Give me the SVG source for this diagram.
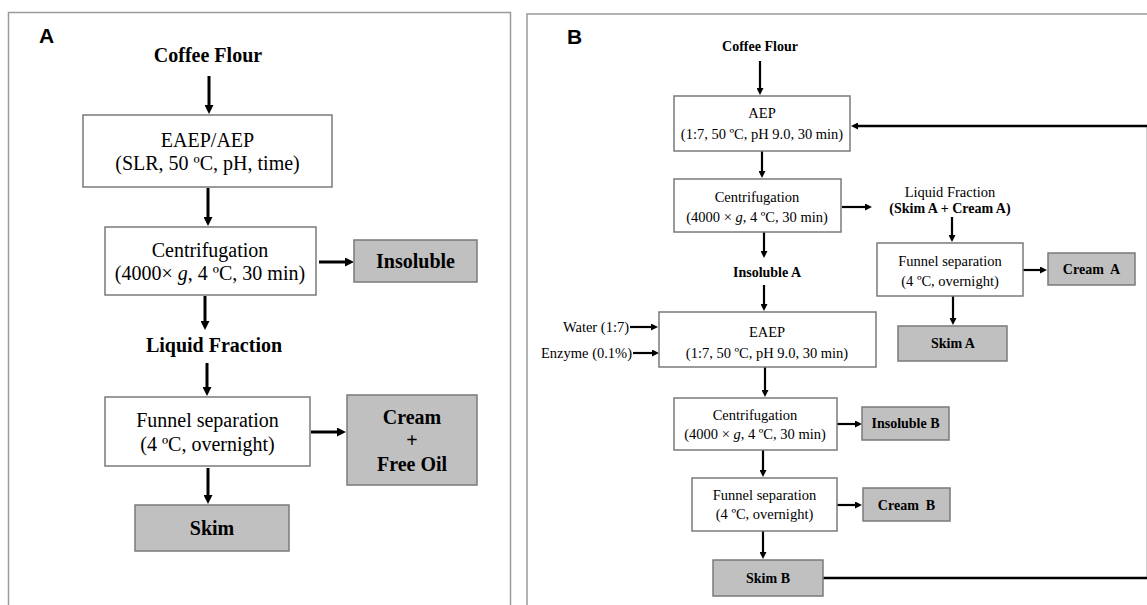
<svg xmlns="http://www.w3.org/2000/svg" width="1147" height="605" viewBox="0 0 1147 605">
<style>
.panel{fill:none;stroke:#9a9a9a;stroke-width:1.5}
.wb{fill:#fff;stroke:#7a7a7a;stroke-width:1.5}
.gb{fill:#c0c0c0;stroke:#7a7a7a;stroke-width:1.5}
.ta{font-family:"Liberation Serif",serif;font-size:20px;text-anchor:middle;fill:#000}
.tab{font-family:"Liberation Serif",serif;font-size:20px;font-weight:bold;text-anchor:middle;fill:#000}
.tb{font-family:"Liberation Serif",serif;font-size:14.5px;text-anchor:middle;fill:#000}
.tbb{font-family:"Liberation Serif",serif;font-size:14px;font-weight:bold;text-anchor:middle;fill:#000}
.lbl{font-family:"Liberation Sans",Arial,sans-serif;font-size:21px;font-weight:bold;fill:#000}
.ca{fill:none;stroke:#000;stroke-width:3;marker-end:url(#ha)}
.cb{fill:none;stroke:#000;stroke-width:2.2;marker-end:url(#hb)}
</style>
<defs>
<marker id="ha" viewBox="0 0 10 10" refX="2" refY="5" markerWidth="9" markerHeight="9" markerUnits="userSpaceOnUse" orient="auto"><path d="M0,0 L10,5 L0,10 z" fill="#000"/></marker>
<marker id="hb" viewBox="0 0 10 10" refX="2" refY="5" markerWidth="7" markerHeight="7" markerUnits="userSpaceOnUse" orient="auto"><path d="M0,0 L10,5 L0,10 z" fill="#000"/></marker>
</defs>
<rect width="1147" height="605" fill="#fff"/>
<rect class="panel" x="8.5" y="12.5" width="502" height="610"/>
<rect class="panel" x="527" y="14" width="640" height="610"/>
<line x1="1146.5" y1="126" x2="1146.5" y2="578" stroke="#d0d0d0" stroke-width="1"/>
<text class="lbl" x="39" y="43">A</text>
<text class="lbl" x="567" y="44">B</text>

<g id="connectors">
<path class="ca" d="M209,76 V106.8"/>
<path class="ca" d="M208,188 V218.8"/>
<path class="ca" d="M319,262 H346.8"/>
<path class="ca" d="M205,296 V322.8"/>
<path class="ca" d="M207,363 V388.8"/>
<path class="ca" d="M311,432 H338.8"/>
<path class="ca" d="M208,468 V496.8"/>

<path class="cb" d="M760,61 V89.4"/>
<path class="cb" d="M823,578 H1148.6 V126 H856.6" style="stroke-width:2.6"/>
<path class="cb" d="M762,151 V172.4"/>
<path class="cb" d="M842,207 H866.4"/>
<path class="cb" d="M952,217 V236.4"/>
<path class="cb" d="M764,232 V252.4"/>
<path class="cb" d="M764,285 V305.4"/>
<path class="cb" d="M1023,270 H1041.4"/>
<path class="cb" d="M953,296 V319.4"/>
<path class="cb" d="M630,327 H652.4"/>
<path class="cb" d="M633,353 H653.4"/>
<path class="cb" d="M765,367 V391.4"/>
<path class="cb" d="M837,424 H856.4"/>
<path class="cb" d="M763,450 V471.4"/>
<path class="cb" d="M837,505 H856.4"/>
<path class="cb" d="M763,531 V553.4"/>
</g>

<g id="a-coffee"><text class="tab" x="208" y="62">Coffee Flour</text></g>
<g id="a-eaep"><rect class="wb" x="83" y="115" width="249" height="72"/>
<text class="ta" x="207.5" y="147">EAEP/AEP</text>
<text class="ta" x="207.5" y="170">(SLR, 50 ºC, pH, time)</text></g>
<g id="a-centrifugation"><rect class="wb" x="105" y="227" width="211" height="68"/>
<text class="ta" x="210" y="257">Centrifugation</text>
<text class="ta" x="210" y="280">(4000× <tspan font-style="italic">g</tspan>, 4 ºC, 30 min)</text></g>
<g id="a-insoluble"><rect class="gb" x="354" y="240" width="123" height="42"/>
<text class="tab" x="415.5" y="268">Insoluble</text></g>
<g id="a-liquid"><text class="tab" x="214" y="352">Liquid Fraction</text></g>
<g id="a-funnel"><rect class="wb" x="105" y="397" width="205" height="69"/>
<text class="ta" x="207.5" y="427">Funnel separation</text>
<text class="ta" x="207.5" y="451">(4 ºC, overnight)</text></g>
<g id="a-cream"><rect class="gb" x="347" y="395" width="130" height="90"/>
<text class="tab" x="412" y="424">Cream</text>
<text class="tab" x="412" y="447">+</text>
<text class="tab" x="412" y="471">Free Oil</text></g>
<g id="a-skim"><rect class="gb" x="135" y="505" width="154" height="46"/>
<text class="tab" x="212" y="535">Skim</text></g>

<g id="b-coffee"><text class="tbb" x="760" y="51">Coffee Flour</text></g>
<g id="b-aep"><rect class="wb" x="674" y="96" width="176" height="55"/>
<text class="tb" x="762" y="118">AEP</text>
<text class="tb" x="762" y="139">(1:7, 50 ºC, pH 9.0, 30 min)</text></g>
<g id="b-centrifugation-a"><rect class="wb" x="674" y="179" width="167" height="53"/>
<text class="tb" x="757" y="202">Centrifugation</text>
<text class="tb" x="757" y="222">(4000 × <tspan font-style="italic">g</tspan>, 4 ºC, 30 min)</text></g>
<g id="b-liquid"><text class="tb" x="950" y="197">Liquid Fraction</text>
<text class="tbb" x="950" y="213">(Skim A + Cream A)</text></g>
<g id="b-funnel-a"><rect class="wb" x="877" y="243" width="146" height="53"/>
<text class="tb" x="950" y="266">Funnel separation</text>
<text class="tb" x="950" y="286">(4 ºC, overnight)</text></g>
<g id="b-cream-a"><rect class="gb" x="1048" y="253" width="87" height="32"/>
<text class="tbb" x="1091.5" y="274" xml:space="preserve">Cream  A</text></g>
<g id="b-skim-a"><rect class="gb" x="898" y="326" width="109" height="35"/>
<text class="tbb" x="953" y="348">Skim A</text></g>
<g id="b-insoluble-a"><text class="tbb" x="767" y="277">Insoluble A</text></g>
<g id="b-water"><text class="tb" x="629" y="332" style="text-anchor:end">Water (1:7)</text></g>
<g id="b-enzyme"><text class="tb" x="632" y="358" style="text-anchor:end">Enzyme (0.1%)</text></g>
<g id="b-eaep"><rect class="wb" x="659" y="312" width="217" height="55"/>
<text class="tb" x="767" y="337">EAEP</text>
<text class="tb" x="767" y="358">(1:7, 50 ºC, pH 9.0, 30 min)</text></g>
<g id="b-centrifugation-b"><rect class="wb" x="674" y="398" width="163" height="52"/>
<text class="tb" x="755" y="420">Centrifugation</text>
<text class="tb" x="755" y="439">(4000 × <tspan font-style="italic">g</tspan>, 4 ºC, 30 min)</text></g>
<g id="b-insoluble-b"><rect class="gb" x="862" y="407" width="87" height="33"/>
<text class="tbb" x="905.5" y="428">Insoluble B</text></g>
<g id="b-funnel-b"><rect class="wb" x="692" y="478" width="145" height="53"/>
<text class="tb" x="764.5" y="500">Funnel separation</text>
<text class="tb" x="764.5" y="519">(4 ºC, overnight)</text></g>
<g id="b-cream-b"><rect class="gb" x="863" y="488" width="87" height="33"/>
<text class="tbb" x="906.5" y="510" xml:space="preserve">Cream  B</text></g>
<g id="b-skim-b"><rect class="gb" x="713" y="560" width="110" height="36"/>
<text class="tbb" x="768" y="583">Skim B</text></g>
</svg>
